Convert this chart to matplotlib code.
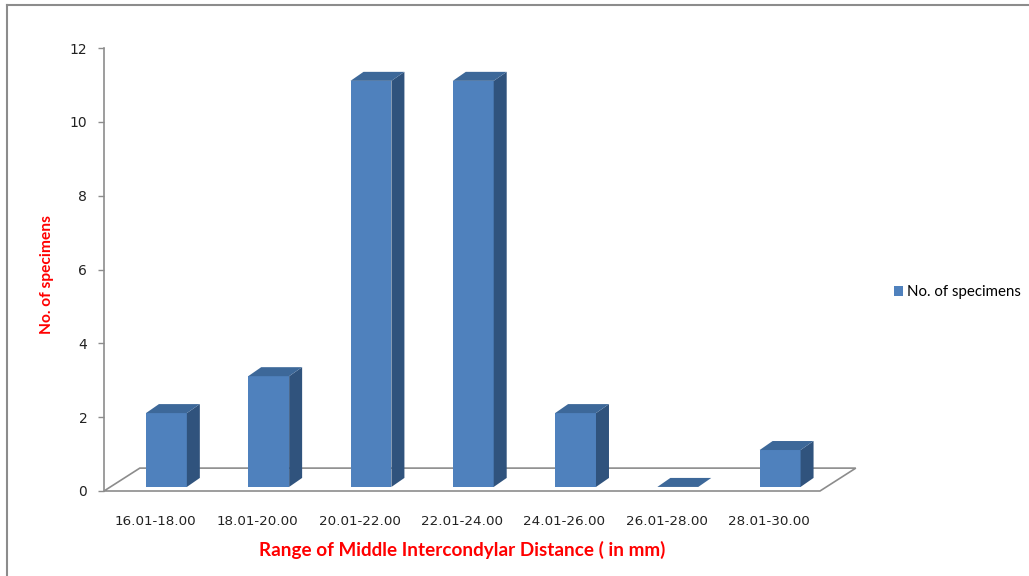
import numpy as np
import matplotlib.pyplot as plt
from matplotlib.patches import Polygon
from matplotlib.lines import Line2D

# data
categories = ['16.01-18.00', '18.01-20.00', '20.01-22.00', '22.01-24.00',
              '24.01-26.00', '26.01-28.00', '28.01-30.00']
specimens = [2, 3, 11, 11, 2, 0, 1]
yticks = [0, 2, 4, 6, 8, 10, 12]

front_c = '#4F81BD'
side_c = '#30537D'
top_c = '#3D6899'
grey = '#8C8C8C'

W, H = 1029, 576
fig = plt.figure(figsize=(W / 100, H / 100), dpi=100)
ax = fig.add_axes([104 / W, 85 / H, 716 / W, 443 / H])

n = len(categories)
ax.set_xlim(0, n)
ax.set_ylim(0, 12)

# floor (3d look)
fdx, fdy = 0.35, 0.62
floor = Polygon([(0, 0), (n, 0), (n + fdx, fdy), (fdx, fdy)], closed=True,
                facecolor='white', edgecolor=grey, lw=1.2, clip_on=False, zorder=1)
ax.add_patch(floor)

# bars: front face + side + top
off, bw, base = 0.41, 0.40, 0.11
ddx, ddy = 0.127, 0.244
x = np.arange(n)
bars = ax.bar(x + off, specimens, width=bw, bottom=base, align='edge',
              color=front_c, zorder=3, label='No. of specimens')
for i, v in enumerate(specimens):
    xl = i + off
    xr = xl + bw
    yb = base
    yt = base + v
    if v > 0:
        ax.add_patch(Polygon([(xr, yb), (xr + ddx, yb + ddy), (xr + ddx, yt + ddy), (xr, yt)],
                             facecolor=side_c, edgecolor='none', zorder=3, clip_on=False))
    ax.add_patch(Polygon([(xl, yt), (xr, yt), (xr + ddx, yt + ddy), (xl + ddx, yt + ddy)],
                         facecolor=top_c, edgecolor='none', zorder=4, clip_on=False))

# axes styling
for s in ['top', 'right', 'bottom']:
    ax.spines[s].set_visible(False)
ax.spines['left'].set_color(grey)
ax.spines['left'].set_linewidth(1.2)
ax.set_yticks(yticks)
ax.tick_params(axis='y', direction='out', length=4, width=1, color=grey,
               pad=8, labelsize=10, labelcolor='#222222')
ax.set_xticks(x + 0.5)
ax.set_xticklabels(categories)
ax.tick_params(axis='x', length=0, pad=17, labelsize=9.7, labelcolor='#222222')

fig.text(462 / W, 1 - 550 / H, 'Range of Middle Intercondylar Distance ( in mm)',
         color='red', fontweight='bold', fontsize=13.6, family='Lato',
         ha='center', va='center')
fig.text(47 / W, 1 - 275 / H, 'No. of specimens', color='red', fontweight='bold',
         fontsize=11.2, family='Lato', rotation=90, ha='center', va='center')

fig.legend(handles=[bars], labels=['No. of specimens'], loc='center left',
           bbox_to_anchor=(880 / W, 1 - 292 / H), frameon=False,
           handlelength=0.65, handleheight=0.65, handletextpad=0.25,
           prop={'family': 'Lato', 'size': 10.8})

# outer frame
fig.add_artist(Line2D([7 / W, 7 / W], [0, 1 - 5 / H], color=grey, lw=1.5))
fig.add_artist(Line2D([7 / W, 1], [1 - 5 / H, 1 - 5 / H], color=grey, lw=1.5))

fig.savefig('out.png', dpi=100)
